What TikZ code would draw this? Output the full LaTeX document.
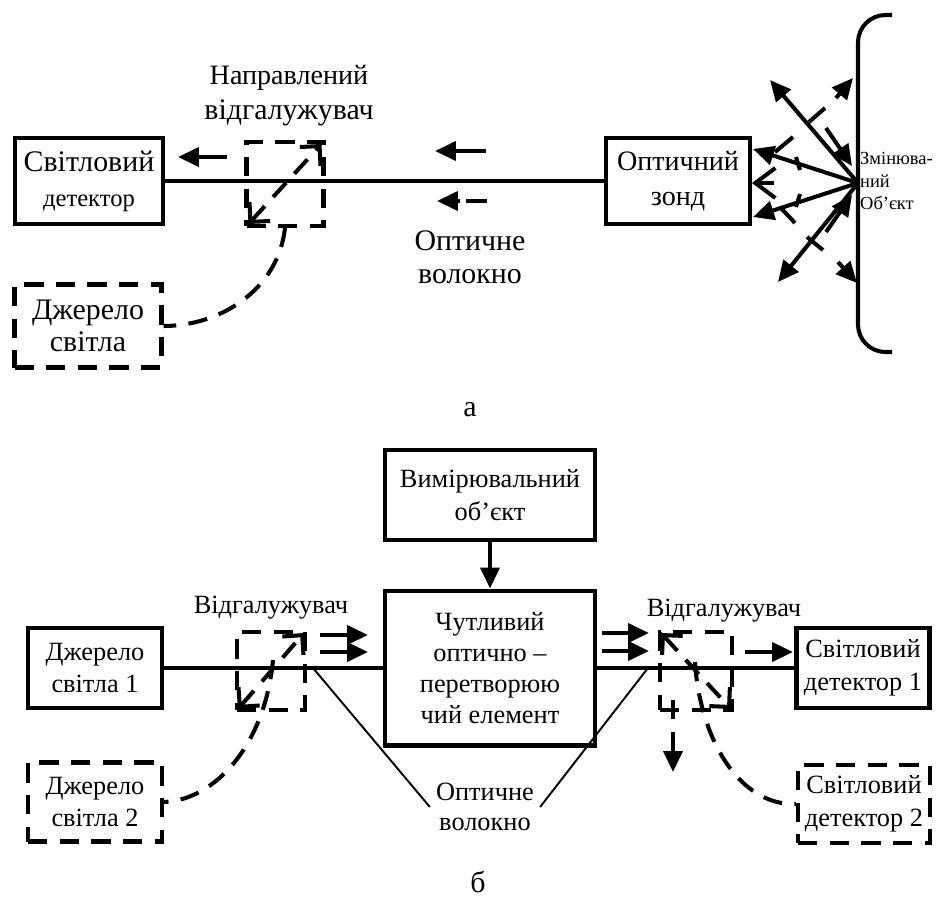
\documentclass[tikz,border=0pt]{standalone}
\usepackage{fontspec}
\setmainfont{Liberation Serif}
\usetikzlibrary{arrows.meta}

\tikzset{
  box/.style={draw, line width=2.3pt, align=center, inner sep=0pt},
  dbox/.style={box, dash pattern=on 11pt off 7pt},
  fib/.style={line width=2.5pt},
  dsh/.style={line width=2.3pt, dash pattern=on 11pt off 7pt},
  arr/.style={line width=2.3pt, -{Triangle[length=0.42cm,width=0.38cm]}},
  cpl/.style={dsh, {Straight Barb[length=0.28cm,width=0.56cm]}-{Straight Barb[length=0.28cm,width=0.56cm]}},
  wire/.style={line width=1.1pt},
  tick/.style={line width=2.3pt},
  bigtxt/.style={font=\fontsize{17}{19}\selectfont},
  txt/.style={font=\fontsize{15}{18.5}\selectfont},
}

\begin{document}
\begin{tikzpicture}[x=0.02cm,y=-0.02cm]
\useasboundingbox (0,0) rectangle (938,897);

% --- a ---
\node[box, minimum width=2.96cm, minimum height=1.72cm, font=\fontsize{17}{20}\selectfont] (det) at (89,181)
  {Світловий\\{\fontsize{14}{17}\selectfont детектор}};
\node[box, minimum width=2.88cm, minimum height=1.72cm, font=\fontsize{16}{20}\selectfont] (zond) at (678,181)
  {Оптичний\\зонд};
\node[dbox, minimum width=2.94cm, minimum height=1.66cm, font=\fontsize{17}{18.5}\selectfont] (src) at (88,326)
  {Джерело\\світла};
\node[dbox, minimum width=1.54cm, minimum height=1.68cm] (coup) at (285,184) {};
\node[align=center, font=\fontsize{16}{20}\selectfont] (coupname) at (289,96)
  {Направлений\\{\fontsize{17}{20}\selectfont відгалужувач}};
\node[align=center, bigtxt] (fibname) at (470,257) {Оптичне\\волокно};
\node[anchor=west, align=left, inner sep=0.5pt, font=\fontsize{10.5}{12.8}\selectfont] (objname) at (859,181)
  {Змінюва-\\ний\\Об’єкт};

\draw[fib] (det) -- (zond);
\draw[cpl] ([shift={(4,-4)}]coup.south west) -- ([shift={(-4,4)}]coup.north east);
\draw[dsh] (coup.south) .. controls (278,290) and (220,326) .. (src.east);

\draw[arr] (227,157) -- (178,157);
\draw[arr] (486,151) -- (435,151);
\draw[tick] (487,201) -- (466,201);
\draw[arr] (460,201) -- (437,201);

% object and rays
\draw[line width=2.3pt, rounded corners=0.55cm] (892,15) -- (858,15) -- (858,352) -- (892,352);
\coordinate (foc) at (858,183);
\draw[arr] (foc) -- (770,80);
\draw[arr] (foc) -- (753,149);
\draw[arr] (foc) -- (753,217);
\draw[arr] (foc) -- (778,282);
\draw[arr] (826,128) -- (852,166);
\draw[arr] (826,232) -- (852,195);
\draw[arr] (836,98) -- (853,78);
\draw[arr] (838,262) -- (857,283);
\draw[line width=2.3pt, -{Straight Barb[length=0.4cm,width=0.6cm]}] (774,183) -- (752,183);
\draw[tick] (809,122) -- (825,108);
\draw[tick] (807,237) -- (823,250);
\draw[tick] (796,157) -- (800,170);
\draw[tick] (796,207) -- (800,194);
\draw[tick] (793,137) -- (775,152);
\draw[tick] (780,207) -- (795,223);

\node[bigtxt] (laba) at (470,410) {а};

% --- b ---
\node[box, minimum width=4.2cm, minimum height=1.8cm, txt] (meas) at (490,495)
  {Вимірювальний\\об’єкт};
\node[box, minimum width=4.2cm, minimum height=3.1cm, font=\fontsize{15}{17.5}\selectfont] (sens) at (490,668)
  {Чутливий\\оптично –\\перетворюю\\чий елемент};
\node[box, minimum width=2.68cm, minimum height=1.6cm, txt] (src1) at (95,668) {Джерело\\світла 1};
\node[dbox, minimum width=2.68cm, minimum height=1.58cm, txt] (src2) at (95,802) {Джерело\\світла 2};
\node[dbox, minimum width=1.36cm, minimum height=1.56cm] (cplL) at (271,671) {};
\node[dbox, minimum width=1.44cm, minimum height=1.56cm] (cplR) at (696,671) {};
\node[box, minimum width=2.66cm, minimum height=1.6cm, txt] (det1) at (863,668) {Світловий\\детектор 1};
\node[dbox, minimum width=2.64cm, minimum height=1.56cm, txt] (det2) at (864,804) {Світловий\\детектор 2};
\node[txt] (cplLname) at (271,608) {Відгалужувач};
\node[txt] (cplRname) at (724,611) {Відгалужувач};
\node[align=center, font=\fontsize{15}{17.5}\selectfont] (fibname2) at (485,807) {Оптичне\\волокно};
\node[bigtxt, inner sep=1pt] (labb) at (478,882) {б};

\draw[fib] (src1) -- (sens);
\draw[fib] (sens) -- (det1);
\draw[arr] (meas) -- (sens);

\draw[arr] (320,635) -- (368,635);
\draw[arr] (320,652) -- (368,652);
\draw[arr] (602,633) -- (649,633);
\draw[arr] (602,651) -- (649,651);
\draw[arr] (745,652) -- (793,652);

\draw[cpl] ([shift={(3,-3)}]cplL.south west) -- ([shift={(-3,3)}]cplL.north east);
\draw[cpl] ([shift={(3,3)}]cplR.north west) -- ([shift={(-3,-3)}]cplR.south east);
\coordinate (cplLin) at (273,660);
\coordinate (cplRin) at (695,662);
\draw[dsh] (cplLin) .. controls (265,745) and (215,800) .. (src2.east);
\draw[dsh] (cplRin) .. controls (700,740) and (740,806) .. (det2.west);
\draw[dsh, -{Triangle[length=0.42cm,width=0.38cm]}] (673,700) -- (673,772);

\coordinate (fibL) at (313,668);
\coordinate (fibR) at (648,668);
\draw[wire] (fibL) -- (fibname2.west);
\draw[wire] (fibR) -- (fibname2.east);
\end{tikzpicture}
\end{document}
